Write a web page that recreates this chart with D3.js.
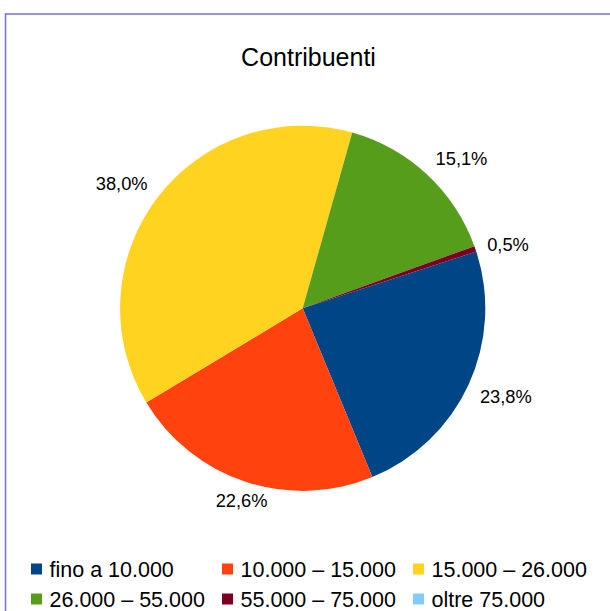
<!DOCTYPE html>
<html>
<head>
<meta charset="utf-8">
<script src="https://cdn.jsdelivr.net/npm/d3@7"></script>
<style>
html,body{margin:0;padding:0;background:#fff;}
svg{display:block;font-family:"Liberation Sans",Arial,sans-serif;}
</style>
</head>
<body>
<svg id="chart" width="610" height="611"></svg>
<script>
const title = "Contribuenti";
const categories = ["fino a 10.000", "10.000 – 15.000", "15.000 – 26.000", "26.000 – 55.000", "55.000 – 75.000", "oltre 75.000"];
const values = [23.8, 22.6, 38.0, 15.1, 0.5, 0.0];
const colors = ["#004586", "#ff420e", "#ffd320", "#579d1c", "#7e0021", "#83caff"];

const svg = d3.select("#chart");
const W = 610, H = 611;

// frame
svg.append("rect").attr("x", 5.5).attr("y", 14).attr("width", W + 10).attr("height", H + 10)
  .attr("fill", "none").attr("stroke", "#7070e0").attr("stroke-width", 1.5);

svg.append("text").attr("x", 308.5).attr("y", 66).attr("text-anchor", "middle")
  .attr("font-size", 25).attr("fill", "#000").text(title);

const cx = 302.7, cy = 308.3, r = 182.6;
const start = 71.9 * Math.PI / 180;
const pie = d3.pie().sort(null).startAngle(start).endAngle(start + 2 * Math.PI);
const arcs = pie(values);
const arc = d3.arc().innerRadius(0).outerRadius(r);

const g = svg.append("g").attr("transform", `translate(${cx},${cy})`);
g.selectAll("path").data(arcs).join("path")
  .attr("d", arc).attr("fill", (d, i) => colors[i]);

const fmt = v => d3.format(".1f")(v).replace(".", ",") + "%";
const labelSize = 18.3, capH = labelSize * 0.72, R = r + 12.5;
const lab = g.selectAll("text.lab").data(arcs.filter(d => d.data > 0)).join("text")
  .attr("class", "lab").attr("font-size", labelSize).attr("fill", "#000")
  .text(d => fmt(d.data));
lab.each(function(d) {
  const a = (d.startAngle + d.endAngle) / 2;
  const s = Math.sin(a), c = Math.cos(a);
  const x = R * s, y = -R * c;
  const anchor = s > 0.383 ? "start" : (s < -0.383 ? "end" : "middle");
  const by = c > 0.383 ? y : (c < -0.383 ? y + capH : y + capH / 2);
  d3.select(this).attr("x", x).attr("y", by).attr("text-anchor", anchor);
});

// legend
const leg = svg.append("g");
const colX = [31, 222, 413], rowY = [569, 599];
categories.forEach((c, i) => {
  const x = colX[i % 3], y = rowY[Math.floor(i / 3)];
  leg.append("rect").attr("x", x).attr("y", y - 5.5).attr("width", 11).attr("height", 11).attr("fill", colors[i]);
  leg.append("text").attr("x", x + 18.5).attr("y", y + 7.5).attr("font-size", 21.5).attr("fill", "#000").text(c);
});
</script>
</body>
</html>
